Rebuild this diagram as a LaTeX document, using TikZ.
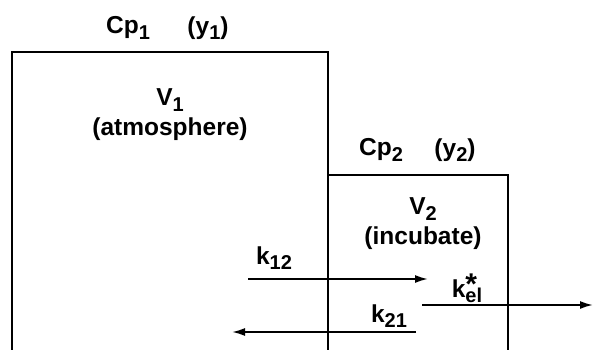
\documentclass[tikz,border=0pt]{standalone}
\usepackage{fontspec}
\setmainfont{Liberation Sans}
\usetikzlibrary{arrows.meta}
\newcommand{\lsub}[1]{\raisebox{-0.4ex}{\fontsize{20}{20}\selectfont #1}}
\begin{document}
\begin{tikzpicture}[x=1pt,y=-1pt,
  wall/.style={line width=1.8pt},
  flow/.style={line width=1.8pt,-{Latex[length=13pt,width=8pt]}},
  lbl/.style={font=\fontsize{24.5}{27}\selectfont\bfseries,inner sep=0pt}]
\useasboundingbox (0,0) rectangle (594,350);
% compartments
\coordinate (b1bl) at (12,350);
\coordinate (b1tl) at (12,52);
\coordinate (b1tr) at (328,52);
\coordinate (b1br) at (328,350);
\coordinate (b2tl) at (328,175);
\coordinate (b2tr) at (508,175);
\coordinate (b2br) at (508,350);
\draw[wall] (b1bl) -- (b1tl) -- (b1tr) -- (b1br);
\draw[wall] (b2tl) -- (b2tr) -- (b2br);
% labels
\node[lbl] (cp1) at (128,28) {Cp\lsub{1}};
\node[lbl] (y1) at (208,28) {(y\lsub{1})};
\node[lbl] (v1) at (170,100) {V\lsub{1}};
\node[lbl] (atm) at (170,129) {(atmosphere)};
\node[lbl] (cp2) at (381,150) {Cp\lsub{2}};
\node[lbl] (y2) at (455,150) {(y\lsub{2})};
\node[lbl] (v2) at (423,209) {V\lsub{2}};
\node[lbl] (inc) at (423,238) {(incubate)};
% arrows
\coordinate (k12s) at (248,279);
\coordinate (k12e) at (428,279);
\coordinate (k21s) at (416,332);
\coordinate (k21e) at (232,332);
\coordinate (kels) at (422,305);
\coordinate (kele) at (593,305);
\draw[flow] (k12s) -- (k12e);
\draw[flow] (k21s) -- (k21e);
\draw[flow] (kels) -- (kele);
\node[lbl] (k12) at (274,258) {k\lsub{12}};
\node[lbl] (k21) at (389,316) {k\lsub{21}};
\node[lbl] (kel) at (467,288) {k\rlap{\raisebox{0.25ex}{\fontsize{30}{30}\selectfont *}}\lsub{el}};
\end{tikzpicture}
\end{document}
